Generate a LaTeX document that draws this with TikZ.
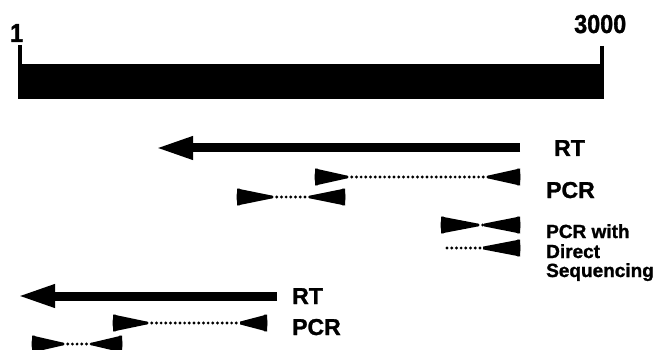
\documentclass[tikz,border=0pt]{standalone}
\usepackage{fontspec}
\setmainfont{Liberation Sans}[BoldFeatures={FakeBold=1.3}]
\newfontfamily\numfont{Liberation Sans}[BoldFeatures={FakeBold=1.3,FakeStretch=0.9}]
\usetikzlibrary{arrows.meta,calc}
\tikzset{
  numlbl/.style={font=\numfont\bfseries\fontsize{26}{28}\selectfont, anchor=base west, inner sep=0pt},
  biglbl/.style={font=\bfseries\fontsize{23}{25}\selectfont, anchor=base west, inner sep=0pt},
  smalllbl/.style={font=\bfseries\fontsize{19}{21}\selectfont, anchor=base west, inner sep=0pt},
  rtarrow/.style={line width=9pt, -{Triangle[length=38pt,width=21pt]}},
  tickline/.style={line width=3.5pt},
  dotline/.style={line width=3.2pt, line cap=round, dash pattern=on 0pt off 4.7pt},
}
\newcommand\drawprimer[2]{%
  \fill ($(#1)+(0,-8.5)$) -- ($(#2)+(0,-1.4)$) -- ($(#2)+(0,1.4)$) -- ($(#1)+(0,8.5)$) -- cycle;
  \fill ($(#1)!2pt!(#2)$) ellipse [x radius=2.4pt, y radius=8.6pt];
}
\begin{document}
\begin{tikzpicture}[x=1pt,y=-1pt]
\useasboundingbox (0,0) rectangle (656,350);

% scale bar
\coordinate (barTL) at (18,64);
\coordinate (barBR) at (604,99);
\fill (barTL) rectangle (barBR);
\coordinate (tickLtop) at (20,45);
\coordinate (tickLbot) at (20,65);
\coordinate (tickRtop) at (602,46);
\coordinate (tickRbot) at (602,65);
\draw[tickline] (tickLtop) -- (tickLbot);
\draw[tickline] (tickRtop) -- (tickRbot);
\node[numlbl] (one) at (10,42) {1};
\node[numlbl] (three) at (574,33) {3000};

% first RT
\coordinate (rtAs) at (520,148);
\coordinate (rtAe) at (155,148);
\draw[rtarrow] (rtAs) -- (rtAe);
\node[biglbl] (rtAl) at (554,156) {RT};

% PCR 1
\coordinate (pAL) at (315,177);
\coordinate (pALT) at (347,177);
\coordinate (pART) at (488,177);
\coordinate (pAR) at (520,177);
\draw[dotline] (pALT) -- (pART);
\drawprimer{pAL}{pALT}
\drawprimer{pAR}{pART}

% PCR 2
\coordinate (pBL) at (237,197);
\coordinate (pBLT) at (272,197);
\coordinate (pBRT) at (310,197);
\coordinate (pBR) at (345,197);
\draw[dotline] (pBLT) -- (pBRT);
\drawprimer{pBL}{pBLT}
\drawprimer{pBR}{pBRT}
\node[biglbl] (pcrAl) at (546,198) {PCR};

% direct sequencing
\coordinate (dAL) at (441,225);
\coordinate (dALT) at (478,225);
\coordinate (dART) at (484,225);
\coordinate (dAR) at (520,225);
\draw[dotline] (dALT) -- (dART);
\drawprimer{dAL}{dALT}
\drawprimer{dAR}{dART}
\coordinate (dBL) at (447,248);
\coordinate (dBRT) at (483,248);
\coordinate (dBR) at (520,248);
\draw[dotline] (dBL) -- (dBRT);
\drawprimer{dBR}{dBRT}
\node[smalllbl] (dsA) at (546,238) {PCR with};
\node[smalllbl] (dsB) at (546,258) {Direct};
\node[smalllbl] (dsC) at (546,277) {Sequencing};

% second RT
\coordinate (rtBs) at (277,296);
\coordinate (rtBe) at (17,296);
\draw[rtarrow] (rtBs) -- (rtBe);
\node[biglbl] (rtBl) at (292,304) {RT};

% PCR 3
\coordinate (pCL) at (113,323);
\coordinate (pCLT) at (147,323);
\coordinate (pCRT) at (240,323);
\coordinate (pCR) at (267,323);
\draw[dotline] (pCLT) -- (pCRT);
\drawprimer{pCL}{pCLT}
\drawprimer{pCR}{pCRT}

% PCR 4
\coordinate (pDL) at (32,344);
\coordinate (pDLT) at (63,344);
\coordinate (pDRT) at (92,344);
\coordinate (pDR) at (122,344);
\draw[dotline] (pDLT) -- (pDRT);
\drawprimer{pDL}{pDLT}
\drawprimer{pDR}{pDRT}
\node[biglbl] (pcrBl) at (292,335) {PCR};
\end{tikzpicture}
\end{document}
